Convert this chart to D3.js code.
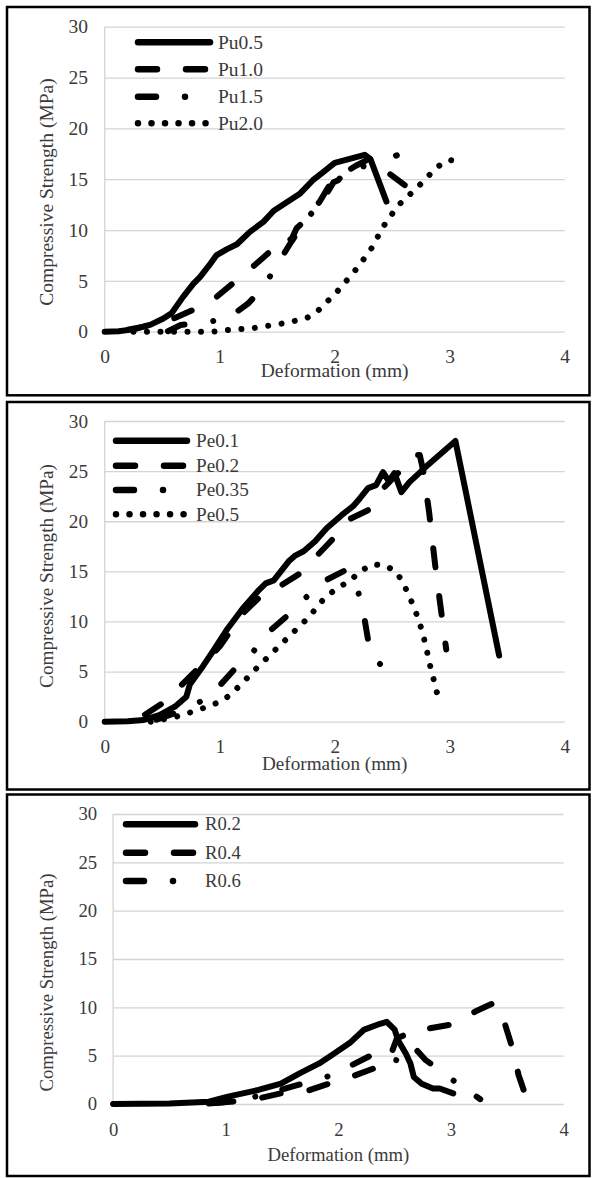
<!DOCTYPE html>
<html>
<head>
<meta charset="utf-8">
<script src="https://cdn.jsdelivr.net/npm/d3@7"></script>
<style>
  html, body { margin: 0; padding: 0; background: #fff; }
  svg { display: block; }
  svg text { font-family: "Liberation Serif", "Tinos", "Times New Roman", "Noto Serif", "DejaVu Serif", serif; }
</style>
</head>
<body>
<svg id="fig" width="595" height="1178"></svg>
<script>
// ---- shared axis data ----
const xTickValues = [0, 1, 2, 3, 4];
const yTickValues = [0, 5, 10, 15, 20, 25, 30];
const xTitle = "Deformation (mm)";
const yTitle = "Compressive Strength (MPa)";

// ---- series: [deformation (mm), strength (MPa)] ----
const pu05 = [[0,0],[0.12,0.05],[0.25,0.23],[0.4,0.7],[0.51,1.3],[0.58,1.8],[0.68,3.4],[0.77,4.7],[0.83,5.4],[0.92,6.7],[0.97,7.5],[1.06,8.1],[1.15,8.6],[1.26,9.8],[1.38,10.8],[1.47,11.9],[1.58,12.7],[1.7,13.6],[1.81,14.9],[1.9,15.7],[2.0,16.6],[2.13,17.0],[2.26,17.4],[2.31,17.0],[2.45,12.8]];
const pu10 = [[0.2,0.2],[0.34,0.5],[0.6,1.3],[0.8,2.3],[0.97,3.4],[1.13,4.9],[1.29,6.4],[1.45,8.0],[1.6,9.3],[1.62,9.0],[1.67,10.2],[1.71,10.6],[1.87,12.8],[1.97,14.7],[2.08,15.6],[2.18,16.3],[2.3,17.0],[2.45,17.0],[2.54,17.35]];
const pu15 = [[0.55,0.05],[0.66,0.66],[0.86,0.9],[1.07,1.3],[1.25,2.8],[1.38,4.4],[1.5,6.6],[1.62,8.8],[1.75,11.0],[1.9,13.0],[1.99,14.7],[2.03,14.9],[2.1,15.8],[2.2,16.4],[2.35,16.0],[2.48,15.5],[2.61,14.4],[2.63,15.1],[2.66,13.5]];
const pu20 = [[0.25,0],[0.57,0],[0.94,0],[1.06,0.16],[1.28,0.33],[1.52,0.75],[1.75,1.3],[1.84,1.9],[2.01,3.8],[2.17,5.9],[2.31,8.0],[2.42,10.3],[2.55,12.4],[2.72,14.2],[2.89,16.2],[2.99,16.9],[3.1,16.7]];

const pe01 = [[0,0],[0.2,0.05],[0.34,0.17],[0.48,0.67],[0.61,1.5],[0.71,2.5],[0.74,3.7],[0.84,5.3],[0.94,7.0],[1.07,9.3],[1.2,11.3],[1.33,13.0],[1.4,13.8],[1.47,14.1],[1.6,16.0],[1.66,16.6],[1.73,17.0],[1.83,18.0],[1.93,19.3],[2.06,20.6],[2.16,21.5],[2.22,22.3],[2.29,23.3],[2.36,23.6],[2.42,24.9],[2.47,24.0],[2.52,24.8],[2.58,22.9],[2.65,23.9],[2.8,25.5],[3.05,28.0],[3.43,6.6]];
const pe02 = [[0.35,0.7],[0.55,2.2],[0.68,3.8],[0.83,5.5],[1.0,7.5],[1.2,10.8],[1.4,13.0],[1.52,13.5],[1.7,14.8],[1.84,16.5],[1.99,18.3],[2.11,20.1],[2.29,21.1],[2.39,22.9],[2.55,24.8],[2.67,26.6],[2.74,26.6],[2.77,25.0],[2.82,21.0],[2.88,15.0],[2.97,7.2]];
const pe035 = [[0.45,0.2],[0.6,0.8],[0.71,1.3],[0.83,2.0],[1.0,3.6],[1.15,5.5],[1.28,6.8],[1.41,8.8],[1.58,10.5],[1.7,11.8],[1.87,13.8],[2.09,15.1],[2.19,13.6],[2.25,10.9],[2.3,7.5],[2.34,6.3],[2.51,4.6]];
const pe05 = [[0.4,0],[0.48,0.17],[0.59,0.4],[0.71,0.8],[0.82,1.2],[0.94,1.7],[1.04,2.2],[1.13,3.1],[1.21,4.0],[1.29,5.0],[1.38,6.0],[1.46,6.9],[1.54,7.8],[1.62,8.7],[1.71,9.7],[1.79,10.6],[1.86,11.7],[1.94,12.6],[2.03,13.4],[2.13,14.0],[2.22,15.0],[2.33,15.7],[2.44,15.6],[2.54,14.9],[2.6,13.7],[2.65,12.5],[2.7,11.1],[2.74,9.8],[2.77,8.6],[2.8,7.2],[2.82,6.0],[2.85,4.7],[2.88,3.3],[2.91,2.0]];

const r02 = [[0,0],[0.5,0.05],[0.85,0.24],[1.02,0.76],[1.29,1.45],[1.49,2.1],[1.66,3.2],[1.83,4.2],[1.96,5.2],[2.1,6.3],[2.23,7.7],[2.37,8.3],[2.43,8.5],[2.5,7.7],[2.53,6.6],[2.6,5.2],[2.64,4.2],[2.67,2.8],[2.74,2.1],[2.84,1.6],[2.9,1.6],[3.02,1.1]];
const r04 = [[0.9,0.1],[1.1,0.3],[1.3,0.6],[1.49,1.1],[1.71,1.3],[1.89,2.0],[2.11,2.8],[2.32,3.7],[2.45,4.6],[2.52,6.8],[2.6,7.2],[2.69,7.1],[2.8,7.8],[3.04,8.3],[3.22,9.6],[3.39,10.5],[3.46,9.0],[3.55,5.6],[3.6,3.0],[3.65,1.3]];
const r06 = [[0.85,0.05],[1.0,0.2],[1.2,0.6],[1.35,1.0],[1.5,1.5],[1.65,2.0],[1.83,2.5],[2.0,3.3],[2.15,4.2],[2.32,5.2],[2.45,4.7],[2.53,4.5],[2.67,5.9],[2.77,4.6],[3.0,2.6],[3.26,0.5]];

const puNames = ["Pu0.5", "Pu1.0", "Pu1.5", "Pu2.0"];
const peNames = ["Pe0.1", "Pe0.2", "Pe0.35", "Pe0.5"];
const rNames  = ["R0.2", "R0.4", "R0.6"];

// line patterns (solid, long dash, long dash-dot, round dot)
const patterns = [null, "19,29", "18,29,0.01,28", "0.01,13.5"];

// ---- panel layout ----
const panels = [
  { names: puNames, data: [pu05, pu10, pu15, pu20],
    frame: [7, 7, 589.5, 395.3], xL: 104.7, xR: 564.7, yT: 26.7, yB: 331.7,
    font: 19.5, yPad: 16.7, xPad: 17.6, xTitleY: 377, yTitleCY: 192,
    legX1: 138, legX2: 210, legText: 218, legY: [42.3, 69.3, 96.7, 123.3] },
  { names: peNames, data: [pe01, pe02, pe035, pe05],
    frame: [7, 402, 589.5, 789.5], xL: 104.7, xR: 564.7, yT: 421, yB: 721.7,
    font: 19.2, yPad: 16.7, xPad: 18, xTitleY: 769.5, yTitleCY: 576,
    legX1: 116, legX2: 187, legText: 196, legY: [440.7, 465.7, 490, 514.3] },
  { names: rNames, data: [r02, r04, r06],
    frame: [7, 794.5, 589.5, 1176], xL: 113.1, xR: 563.6, yT: 814, yB: 1104,
    font: 18.7, yPad: 16, xPad: 19, xTitleY: 1161, yTitleCY: 982.5,
    legX1: 126, legX2: 195, legText: 205, legY: [824.3, 852.7, 881] }
];

const svg = d3.select("#fig");
svg.append("rect").attr("width", 595).attr("height", 1178).attr("fill", "#fff");

const textColor = "#3a3a3a";
const gridColor = "#d4d4d4";

panels.forEach(p => {
  const g = svg.append("g");
  const x = d3.scaleLinear().domain([0, 4]).range([p.xL, p.xR]);
  const y = d3.scaleLinear().domain([0, 30]).range([p.yB, p.yT]);

  // frame
  const [fx0, fy0, fx1, fy1] = p.frame;
  g.append("rect")
    .attr("x", fx0).attr("y", fy0)
    .attr("width", fx1 - fx0).attr("height", fy1 - fy0)
    .attr("fill", "none").attr("stroke", "#000").attr("stroke-width", 2.5);

  // horizontal gridlines
  const grid = g.append("g")
    .attr("transform", `translate(${p.xL},0)`)
    .call(d3.axisLeft(y).tickValues(yTickValues).tickSize(-(p.xR - p.xL)).tickFormat(""));
  grid.select(".domain").remove();
  grid.selectAll(".tick line").attr("stroke", gridColor).attr("stroke-width", 1.3);

  // vertical axis line
  g.append("line")
    .attr("x1", p.xL).attr("x2", p.xL).attr("y1", y(30)).attr("y2", y(0))
    .attr("stroke", gridColor).attr("stroke-width", 1.3);

  // y tick labels
  const ya = g.append("g")
    .attr("transform", `translate(${p.xL},0)`)
    .call(d3.axisLeft(y).tickValues(yTickValues).tickSize(0).tickPadding(p.yPad).tickFormat(d3.format("d")));
  ya.select(".domain").remove();
  ya.attr("font-family", null);
  ya.selectAll("text").attr("font-size", p.font).attr("fill", textColor);

  // x tick labels
  const xa = g.append("g")
    .attr("transform", `translate(0,${p.yB})`)
    .call(d3.axisBottom(x).tickValues(xTickValues).tickSize(0).tickPadding(p.xPad).tickFormat(d3.format("d")));
  xa.select(".domain").remove();
  xa.attr("font-family", null);
  xa.selectAll("text").attr("font-size", p.font).attr("fill", textColor);

  // axis titles
  g.append("text")
    .attr("x", (p.xL + p.xR) / 2).attr("y", p.xTitleY)
    .attr("text-anchor", "middle")
    .attr("font-size", p.font).attr("fill", textColor)
    .text(xTitle);
  g.append("text")
    .attr("transform", `translate(53,${p.yTitleCY}) rotate(-90)`)
    .attr("text-anchor", "middle")
    .attr("font-size", p.font).attr("fill", textColor)
    .text(yTitle);

  // series
  const line = d3.line().x(d => x(d[0])).y(d => y(d[1]));
  p.data.forEach((s, i) => {
    g.append("path")
      .datum(s)
      .attr("d", line)
      .attr("fill", "none")
      .attr("stroke", "#000")
      .attr("stroke-width", 6)
      .attr("stroke-linecap", "round")
      .attr("stroke-linejoin", "round")
      .attr("stroke-dasharray", patterns[i]);
  });

  // legend
  p.names.forEach((name, i) => {
    const ly = p.legY[i];
    g.append("line")
      .attr("x1", p.legX1).attr("x2", p.legX2).attr("y1", ly).attr("y2", ly)
      .attr("stroke", "#000").attr("stroke-width", 6.5)
      .attr("stroke-linecap", "round")
      .attr("stroke-dasharray", patterns[i]);
    g.append("text")
      .attr("x", p.legText).attr("y", ly).attr("dy", "0.33em")
      .attr("font-size", p.font).attr("fill", textColor)
      .text(name);
  });
});
</script>
</body>
</html>
